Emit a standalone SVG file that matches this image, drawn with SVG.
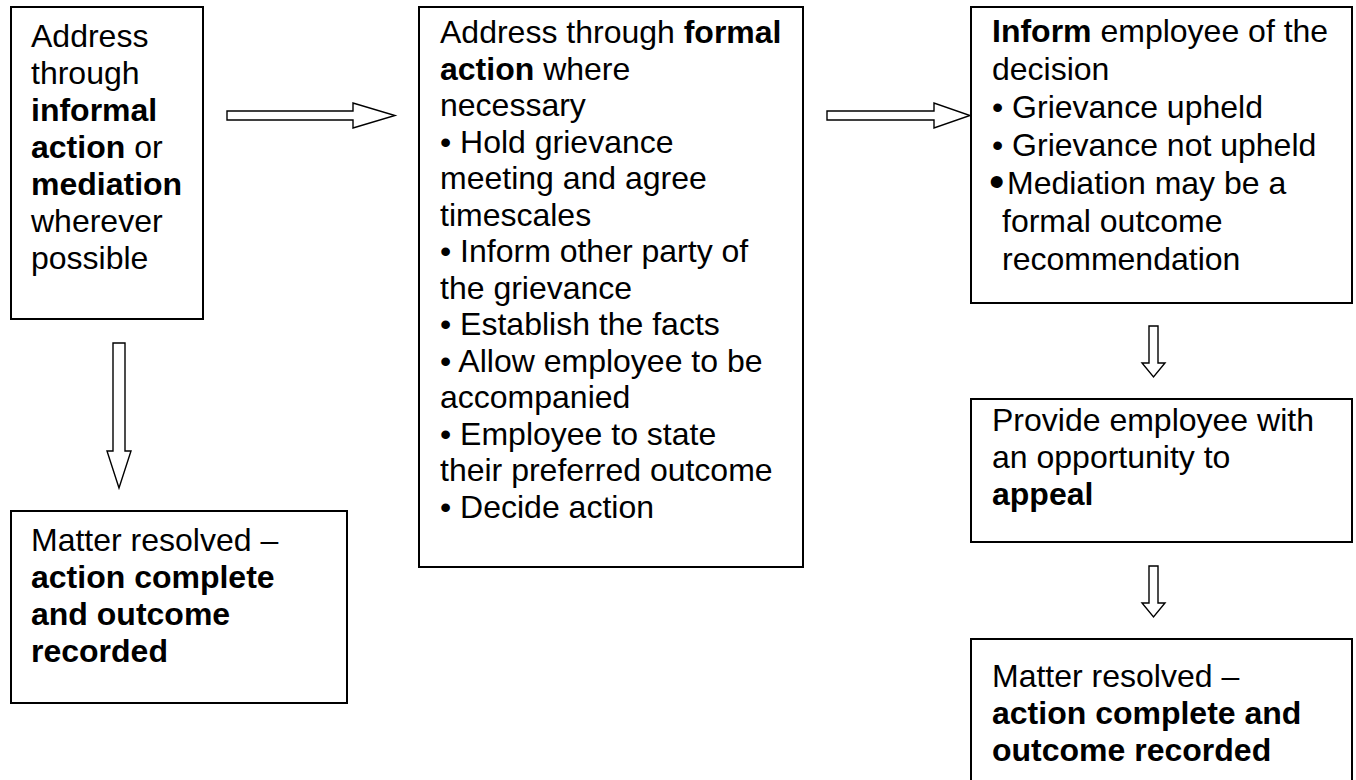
<svg xmlns="http://www.w3.org/2000/svg" width="1356" height="780" viewBox="0 0 1356 780">
<style>
  .box { fill: #ffffff; stroke: #000000; stroke-width: 2; }
  .arr { fill: #ffffff; stroke: #000000; stroke-width: 1.4; stroke-linejoin: miter; }
  text { font-family: "Liberation Sans", Arial, sans-serif; font-size: 32px; fill: #000000; }
  .b { font-weight: bold; }
  .bigdot { font-size: 44px; }
</style>
<rect x="0" y="0" width="1356" height="780" fill="#ffffff"/>

<g id="connectors">
  <polygon class="arr" points="227,111 353,111 353,103 395,115.5 353,128 353,120 227,120"/>
  <polygon class="arr" points="827,111 934,111 934,103 970,115.5 934,128 934,120 827,120"/>
  <polygon class="arr" points="113,343 125,343 125,451 131,451 119,488 107,451 113,451"/>
  <polygon class="arr" points="1149,326 1158,326 1158,363 1165,363 1153.5,377 1142,363 1149,363"/>
  <polygon class="arr" points="1149,566 1158,566 1158,603 1165,603 1153.5,617 1142,603 1149,603"/>
</g>

<g id="node-informal">
  <rect class="box" x="11" y="7" width="192" height="312"/>
  <text x="31" y="47">Address</text>
  <text x="31" y="84">through</text>
  <text x="31" y="121" class="b">informal</text>
  <text x="31" y="158"><tspan class="b">action</tspan> or</text>
  <text x="31" y="195" class="b">mediation</text>
  <text x="31" y="232">wherever</text>
  <text x="31" y="269">possible</text>
</g>

<g id="node-resolved-left">
  <rect class="box" x="11" y="511" width="336" height="192"/>
  <text x="31" y="551">Matter resolved –</text>
  <text x="31" y="588" class="b">action complete</text>
  <text x="31" y="625" class="b">and outcome</text>
  <text x="31" y="662" class="b">recorded</text>
</g>

<g id="node-formal">
  <rect class="box" x="419" y="7" width="384" height="560"/>
  <text x="440" y="43">Address through <tspan class="b">formal</tspan></text>
  <text x="440" y="79.5"><tspan class="b">action</tspan> where</text>
  <text x="440" y="116">necessary</text>
  <text x="440" y="152.5">• Hold grievance</text>
  <text x="440" y="189">meeting and agree</text>
  <text x="440" y="225.5">timescales</text>
  <text x="440" y="262">• Inform other party of</text>
  <text x="440" y="298.5">the grievance</text>
  <text x="440" y="335">• Establish the facts</text>
  <text x="440" y="371.5">• Allow employee to be</text>
  <text x="440" y="408">accompanied</text>
  <text x="440" y="444.5">• Employee to state</text>
  <text x="440" y="481">their preferred outcome</text>
  <text x="440" y="517.5">• Decide action</text>
</g>

<g id="node-inform">
  <rect class="box" x="971" y="7" width="381" height="296"/>
  <text x="992" y="41.5"><tspan class="b">Inform</tspan> employee of the</text>
  <text x="992" y="79.5">decision</text>
  <text x="992" y="117.5">• Grievance upheld</text>
  <text x="992" y="155.5">• Grievance not upheld</text>
  <text x="989" y="197" class="bigdot">•</text>
  <text x="1007" y="193.5">Mediation may be a</text>
  <text x="1002" y="231.5">formal outcome</text>
  <text x="1002" y="269.5">recommendation</text>
</g>

<g id="node-appeal">
  <rect class="box" x="971" y="399" width="381" height="143"/>
  <text x="992" y="431">Provide employee with</text>
  <text x="992" y="468">an opportunity to</text>
  <text x="992" y="505" class="b">appeal</text>
</g>

<g id="node-resolved-right">
  <rect class="box" x="971" y="639" width="381" height="145"/>
  <text x="992" y="687">Matter resolved –</text>
  <text x="992" y="724" class="b">action complete and</text>
  <text x="992" y="761" class="b">outcome recorded</text>
</g>
</svg>
